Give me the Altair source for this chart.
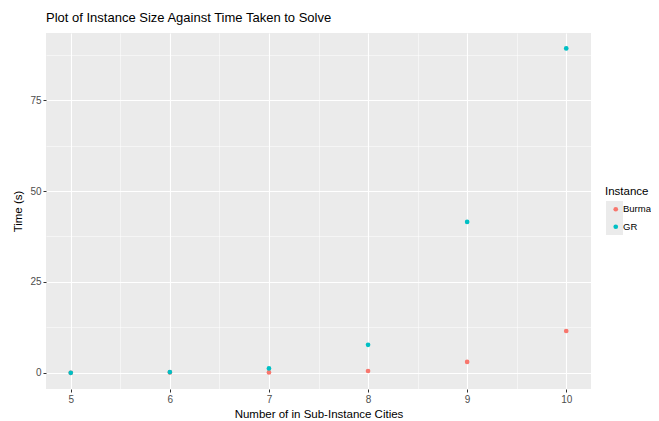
import altair as alt
import pandas as pd

cities = [5, 6, 7, 8, 9, 10]
burma_time = [0.0, 0.1, 0.1, 0.5, 3.0, 11.5]
gr_time = [0.0, 0.2, 1.2, 7.7, 41.5, 89.2]
instances = ["Burma", "GR"]
colors = ["#F8766D", "#00BFC4"]

x_major = [5, 6, 7, 8, 9, 10]
x_minor = [5.5, 6.5, 7.5, 8.5, 9.5]
y_major = [0, 25, 50, 75]
y_minor = [12.5, 37.5, 62.5, 87.5]

rows = []
for c, b in zip(cities, burma_time):
    rows.append({"cities": c, "time": b, "Instance": "Burma"})
for c, g in zip(cities, gr_time):
    rows.append({"cities": c, "time": g, "Instance": "GR"})
df = pd.DataFrame(rows)
df["key"] = df["Instance"]

FONT = "Liberation Sans"
xscale = alt.Scale(domain=[4.75, 10.25], nice=False, zero=False)
yscale = alt.Scale(domain=[-4.45, 93.45], nice=False, zero=False)

points = alt.Chart(df).mark_circle(size=22, opacity=1).encode(
    x=alt.X("cities:Q", scale=xscale,
            axis=alt.Axis(orient="bottom", values=x_major, grid=True, gridColor="white", gridWidth=1.1,
                          domain=False, tickColor="#333333", tickSize=3, tickWidth=1,
                          labelColor="#4D4D4D", labelFontSize=10, labelFont=FONT,
                          labelPadding=2, title="Number of in Sub-Instance Cities",
                          titleFont=FONT, titleFontSize=11.5, titleFontWeight="normal",
                          titleColor="black", titlePadding=4)),
    y=alt.Y("time:Q", scale=yscale,
            axis=alt.Axis(orient="left", values=y_major, grid=True, gridColor="white", gridWidth=1.1,
                          domain=False, tickColor="#333333", tickSize=3, tickWidth=1,
                          labelColor="#4D4D4D", labelFontSize=10, labelFont=FONT,
                          labelPadding=2, title="Time (s)",
                          titleFont=FONT, titleFontSize=11.5, titleFontWeight="normal",
                          titleColor="black", titlePadding=6)),
    color=alt.Color("Instance:N", scale=alt.Scale(domain=instances, range=colors),
                    legend=alt.Legend(title="Instance", orient="none", legendX=559, legendY=153,
                                      titleFont=FONT, titleFontSize=11.5, titleFontWeight="normal",
                                      titleColor="black", labelFont=FONT, labelFontSize=9.5,
                                      labelColor="black", symbolType="circle", symbolSize=22,
                                      symbolOffset=6, rowPadding=6.5, titlePadding=7,
                                      labelOffset=2.5, zindex=2)),
)

minor = alt.Chart(df).mark_point(filled=True, size=0.01, color="#EBEBEB", opacity=1).encode(
    x=alt.X("cities:Q", scale=xscale,
            axis=alt.Axis(orient="top", values=x_minor, grid=True, gridColor="white", gridWidth=0.5,
                          domain=False, ticks=False, labels=False, title=None)),
    y=alt.Y("time:Q", scale=yscale,
            axis=alt.Axis(orient="right", values=y_minor, grid=True, gridColor="white", gridWidth=0.5,
                          domain=False, ticks=False, labels=False, title=None)),
    shape=alt.Shape("key:N", scale=alt.Scale(domain=instances, range=["square", "square"]),
                    legend=alt.Legend(title=None, orient="none", legendX=560, legendY=168,
                                      symbolType="square", symbolSize=289, symbolFillColor="#EBEBEB",
                                      symbolStrokeWidth=0, symbolOpacity=1, rowPadding=0,
                                      labelExpr="''", labelFontSize=10, labelOffset=0, zindex=1)),
)

chart = alt.layer(points, minor).resolve_axis(
    x="independent", y="independent"
).resolve_legend(color="independent", shape="independent").properties(
    width=545, height=356,
    autosize=alt.AutoSizeParams(type="none"),
    padding={"left": 38, "top": 25, "right": 60, "bottom": 32},
    title=alt.TitleParams("Plot of Instance Size Against Time Taken to Solve", anchor="start",
                          frame="group", font=FONT, fontSize=13, fontWeight="normal",
                          color="black", dx=0, offset=8),
).configure_view(fill="#EBEBEB", stroke=None)

chart.save("out.html", embed_options={"renderer": "svg", "actions": False})
